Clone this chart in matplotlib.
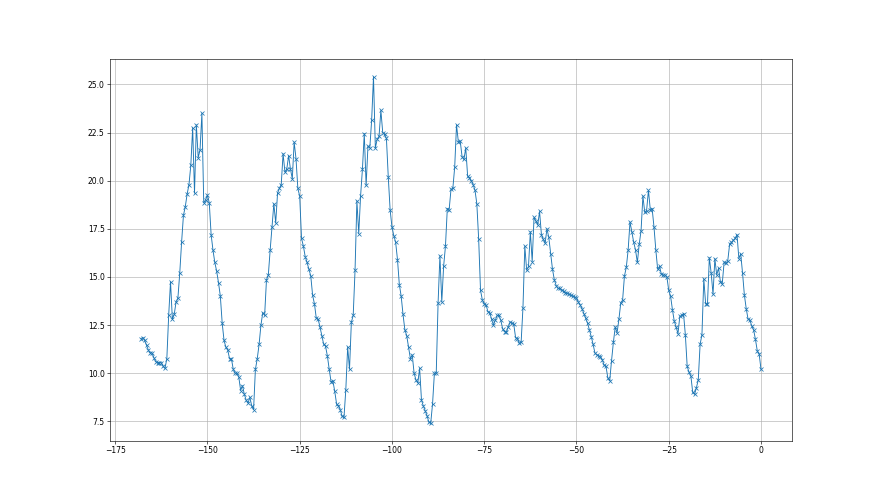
import numpy as np
import matplotlib.pyplot as plt

# readings every half hour, from -168 h up to now (0)
seg1 = [11.8, 11.85, 11.7, 11.45, 11.2, 11.05, 11.05, 10.8, 10.6, 10.55,
        10.55, 10.55, 10.35, 10.25, 10.75, 13.0, 14.75, 12.8, 13.05, 13.7,
        13.9, 15.2, 16.8, 18.2, 18.65, 19.3, 19.8, 20.8, 22.75, 19.35,
        22.9, 21.2, 21.6, 23.5, 18.85, 19.0, 19.25, 18.85, 17.2, 16.4,
        15.75, 15.3, 14.7]
seg2 = [14.0, 12.6, 11.7, 11.35, 11.2, 10.75, 10.75, 10.2, 10.0, 10.0,
        9.8, 9.1, 9.35, 8.9, 8.6, 8.45, 8.75, 8.3, 8.1, 10.2,
        10.75, 11.5, 12.5, 13.15, 13.0, 14.85, 15.1, 16.4, 17.6, 18.8,
        17.8, 19.35, 19.6, 19.8, 21.4, 20.45, 20.6, 21.3, 20.6, 20.1,
        22.0, 21.15, 19.6, 19.2, 17.0, 16.6, 16.05]
seg3 = [15.75, 15.4, 15.05, 14.05, 13.6, 12.85, 12.8, 12.4, 11.95, 11.5,
        11.4, 10.9, 10.2, 9.55, 9.6, 9.05, 8.4, 8.3, 8.1, 7.75,
        7.7, 9.15, 11.35, 10.2, 12.65, 13.0, 15.35, 18.95, 17.25, 19.2,
        20.6, 22.45, 19.75, 21.8, 21.7, 23.15, 25.4, 21.7, 22.15, 22.3,
        23.65, 22.5, 22.4, 22.2, 20.2, 18.5]
seg4 = [17.6, 17.15, 16.8, 15.9, 14.6, 14.0, 13.05, 12.25, 11.95, 11.35,
        10.75, 10.95, 10.0, 9.65, 9.5, 10.25, 8.6, 8.3, 8.05, 7.8,
        7.45, 7.4, 8.4, 10.0, 10.0, 13.65, 16.1, 13.7, 15.55, 16.6,
        18.55, 18.5, 19.55, 19.6, 20.7, 22.9, 22.0, 22.05, 21.25, 21.1,
        21.7, 20.25, 20.15, 20.0, 19.8, 19.5]
seg5 = [18.8, 16.95, 14.3, 13.8, 13.6, 13.55, 13.2, 13.15, 12.8, 12.5,
        12.75, 13.0, 13.0, 12.75, 12.3, 12.15, 12.15, 12.4, 12.65, 12.6,
        12.55, 11.85, 11.8, 11.55, 11.6, 13.4, 16.6, 15.35, 15.55, 17.35,
        15.8, 18.1, 17.9, 17.7, 18.4, 17.2, 16.95, 16.75, 17.5, 17.05,
        16.2, 15.4, 14.85, 14.55, 14.4]
seg6 = [14.4, 14.3, 14.25, 14.15, 14.15, 14.1, 14.05, 14.0, 13.95, 13.9,
        13.7, 13.55, 13.35, 13.1, 12.85, 12.6, 12.25, 11.9, 11.5, 11.05,
        10.95, 10.9, 10.85, 10.7, 10.4, 10.35, 9.75, 9.6, 10.65, 11.6,
        12.4, 12.1, 12.8, 13.65, 13.8, 15.05, 15.5, 16.4, 17.85, 17.35,
        16.8, 16.4, 15.75, 16.7, 17.4, 19.2, 18.35]
seg7 = [18.45, 19.5, 18.5, 18.55, 17.6, 16.4, 15.4, 15.55, 15.15, 15.1,
        15.1, 15.0, 14.3, 14.0, 13.3, 12.7, 12.4, 12.05, 12.95, 13.0,
        13.1, 12.0, 10.35, 10.05, 9.85, 9.0, 8.9, 9.25, 9.65, 11.5,
        12.0, 14.9, 13.6, 13.6, 16.0, 15.2, 14.1, 15.95, 15.1, 15.45]
seg8 = [14.75, 14.65, 15.75, 15.7, 15.85, 16.7, 16.8, 16.9, 17.0, 17.2,
        15.95, 16.2, 15.2, 14.05, 13.35, 12.8, 12.75, 12.45, 12.25, 11.75,
        11.15, 11.0, 10.2]

temp = seg1 + seg2 + seg3 + seg4 + seg5 + seg6 + seg7 + seg8
heures = np.arange(len(temp)) * 0.5 - 168

fig, ax = plt.subplots(figsize=(16, 9), dpi=55)
ax.plot(heures, temp, marker="x", linewidth=1.2, markersize=5)
ax.grid(True)

fig.savefig("out.png", dpi=55)
